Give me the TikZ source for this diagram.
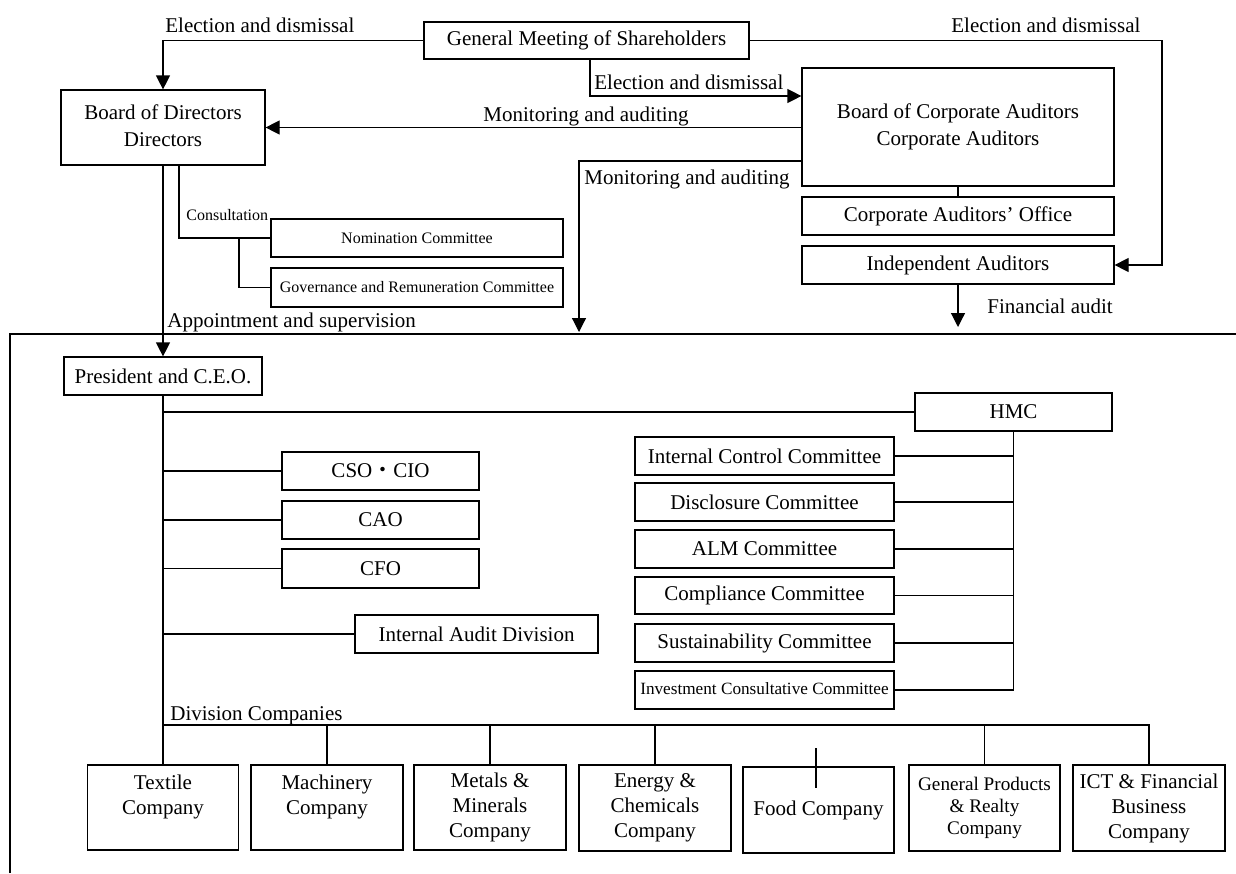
\documentclass[tikz,border=0pt]{standalone}
\usepackage{fontspec}
\setmainfont{Liberation Serif}
\newfontfamily\cjkjp{Noto Sans CJK JP}
\usetikzlibrary{arrows.meta}
\newcommand\fmain{\fontsize{10.5}{12.5}\selectfont}
\newcommand\fwide{\fontsize{10.5}{13.8}\selectfont}
\newcommand\fsmall{\fontsize{8}{9.5}\selectfont}
\newcommand\finv{\fontsize{8.6}{10}\selectfont}
\newcommand\fgen{\fontsize{9.6}{11}\selectfont}
\tikzset{
  box/.style={draw, line width=0.6pt, inner sep=0pt, align=center, font=\fmain},
  wh/.style 2 args={minimum width=#1*0.5pt, minimum height=#2*0.5pt},
  ln/.style={line width=0.6pt},
  arr/.style={line width=0.6pt, -{Triangle[length=7pt,width=7pt]}},
  lbl/.style={inner sep=0pt, anchor=base west, font=\fmain}
}
\begin{document}
\begin{tikzpicture}[x=0.5pt,y=-0.5pt]
\useasboundingbox (0,0) rectangle (1236,873);
% boxes
\node[box, wh={325}{37}] (gm) at (586.5,40.5) {\raisebox{-1pt}{General Meeting of Shareholders}};
\node[box, wh={204}{75}, font=\fwide] (bod) at (163,127.5) {\raisebox{2pt}{\begin{tabular}{@{}c@{}}Board of Directors\\Directors\end{tabular}}};
\node[box, wh={312}{118}, font=\fwide] (bca) at (958,127) {Board of Corporate Auditors\\Corporate Auditors};
\node[box, wh={312}{38}] (cao) at (958,216) {Corporate Auditors’ Office};
\node[box, wh={312}{38}] (ia) at (958,265) {Independent Auditors};
\node[box, wh={292}{38}, font=\fsmall] (nom) at (417,238) {Nomination Committee};
\node[box, wh={292}{39}, font=\fsmall] (gov) at (417,287.5) {Governance and Remuneration Committee};
\node[box, wh={198}{38}] (pres) at (163,376) {President and C.E.O.};
\node[box, wh={197}{38}] (hmc) at (1013.5,412) {HMC};
\node[box, wh={197}{38}] (cso) at (380.5,471) {CSO{\cjkjp ・}CIO};
\node[box, wh={197}{38}] (caox) at (380.5,520) {CAO};
\node[box, wh={197}{39}] (cfo) at (380.5,568.5) {CFO};
\node[box, wh={243}{38}] (iad) at (476.5,634) {Internal Audit Division};
\node[box, wh={259}{38}] (icc) at (764.5,456) {Internal Control Committee};
\node[box, wh={259}{38}] (dis) at (764.5,502) {Disclosure Committee};
\node[box, wh={259}{38}] (alm) at (764.5,549) {ALM Committee};
\node[box, wh={259}{37}] (com) at (764.5,595.5) {Compliance Committee};
\node[box, wh={259}{38}] (sus) at (764.5,643) {Sustainability Committee};
\node[box, wh={259}{38}, font=\finv] (inv) at (764.5,690) {\raisebox{1.5pt}{Investment Consultative Committee}};
% companies
\node[box, wh={151}{85}] (tex) at (163,807.5) {Textile\\Company\\\mbox{}};
\node[box, wh={152}{85}] (mac) at (327,807.5) {Machinery\\Company\\\mbox{}};
\node[box, wh={152}{85}] (met) at (490,807.5) {Metals \&\\Minerals\\Company};
\node[box, wh={152}{86}] (ene) at (655,808) {Energy \&\\Chemicals\\Company};
\node[box, wh={151}{86}] (food) at (818.5,810) {Food Company};
\node[box, wh={151}{86}, font=\fgen] (gen) at (984.5,808) {\raisebox{1.5pt}{\begin{tabular}{@{}c@{}}General Products\\\& Realty\\Company\end{tabular}}};
\node[box, wh={152}{86}] (ict) at (1149,808) {ICT \& Financial\\Business\\Company};
% labels
\node[lbl] (l1) at (165,32) {Election and dismissal};
\node[lbl] (l2) at (951,32) {Election and dismissal};
\node[lbl] (l3) at (594,89) {Election and dismissal};
\node[lbl] (l4) at (483,121) {Monitoring and auditing};
\node[lbl] (l5) at (584,184) {Monitoring and auditing};
\node[lbl, font=\fsmall] (l6) at (186,220) {Consultation};
\node[lbl] (l7) at (167,327) {Appointment and supervision};
\node[lbl] (l8) at (987,313) {Financial audit};
\node[lbl] (l9) at (170,720) {Division Companies};
% coordinates
\coordinate (m1) at (590,96);
\coordinate (m2) at (579,161);
\coordinate (m2b) at (579,332);
\coordinate (r1) at (1162,265);
\coordinate (fa) at (958,327);
\coordinate (c1) at (179,238);
\coordinate (c2) at (239,238);
\coordinate (dv) at (163,725);
\coordinate (fd1) at (816,748);
\coordinate (fd2) at (816,788);
\coordinate (f1) at (10,873);
\coordinate (f2) at (10,334);
\coordinate (f3) at (1236,334);
% frame
\draw[ln] (f1) -- (f2) -- (f3);
% top connectors
\draw[arr] (gm.west) -| (bod.north);
\draw[arr] (gm.south -| m1) -- (m1) -- (bca.west |- m1);
\draw[arr] (gm.east) -| (r1) -- (ia.east);
\draw[arr] (bca.west |- bod.east) -- (bod.east);
\draw[arr] (bca.west |- m2) -- (m2) -- (m2b);
\draw[ln] (bca.south) -- (cao.north);
\draw[arr] (ia.south) -- (fa);
\draw[arr] (bod.south) -- (pres.north);
\draw[ln] (bod.south -| c1) -- (c1) -- (nom.west);
\draw[ln] (c2) |- (gov.west);
% president
\draw[ln] (pres.south) -- (tex.north);
\draw[ln] (pres.south |- hmc.west) -- (hmc.west);
\draw[ln] (pres.south |- cso.west) -- (cso.west);
\draw[ln] (pres.south |- caox.west) -- (caox.west);
\draw[ln] (pres.south |- cfo.west) -- (cfo.west);
\draw[ln] (pres.south |- iad.west) -- (iad.west);
% HMC
\draw[ln] (hmc.south) -- (hmc.south |- inv.east) -- (inv.east);
\draw[ln] (icc.east) -- (icc.east -| hmc.south);
\draw[ln] (dis.east) -- (dis.east -| hmc.south);
\draw[ln] (alm.east) -- (alm.east -| hmc.south);
\draw[ln] (com.east) -- (com.east -| hmc.south);
\draw[ln] (sus.east) -- (sus.east -| hmc.south);
% divisions
\draw[ln] (dv) -- (dv -| ict.north) -- (ict.north);
\draw[ln] (dv -| mac.north) -- (mac.north);
\draw[ln] (dv -| met.north) -- (met.north);
\draw[ln] (dv -| ene.north) -- (ene.north);
\draw[ln] (dv -| gen.north) -- (gen.north);
\draw[ln] (fd1) -- (fd2);
\end{tikzpicture}
\end{document}
